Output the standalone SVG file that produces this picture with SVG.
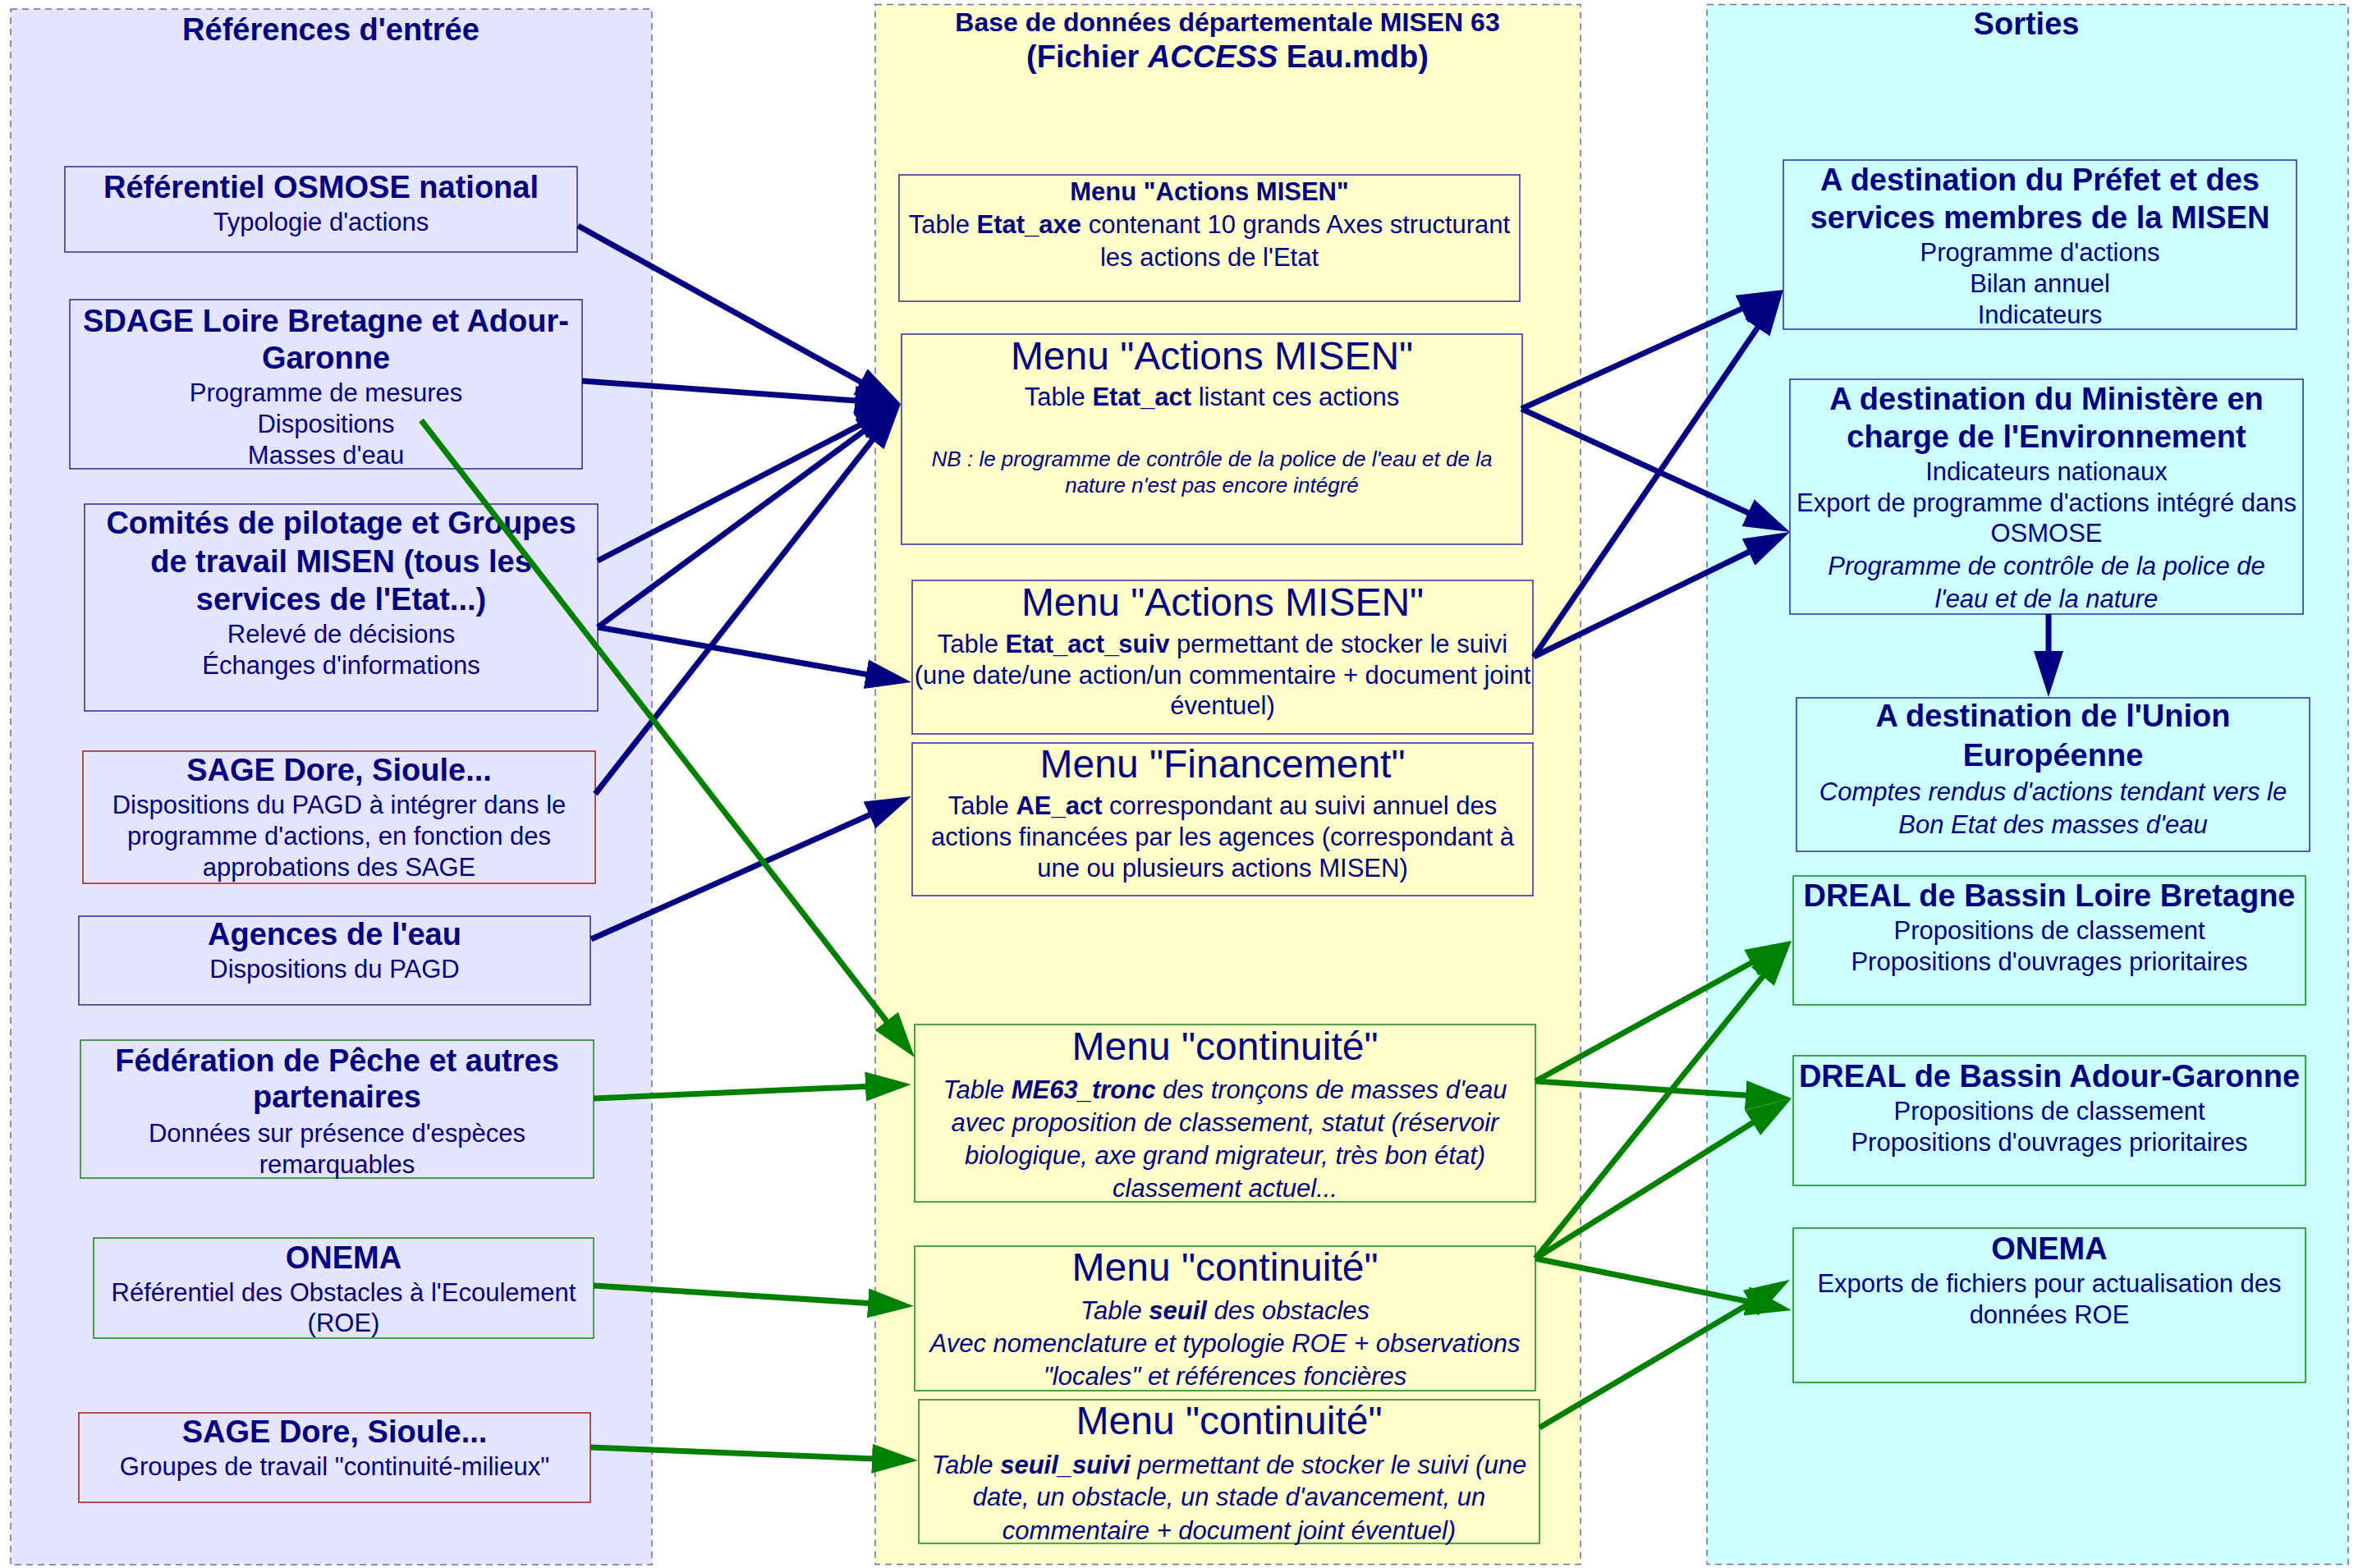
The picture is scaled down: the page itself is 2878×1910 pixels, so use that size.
<svg xmlns="http://www.w3.org/2000/svg" width="2878" height="1910" viewBox="0 0 2878 1910">
<style>
text{font-family:"Liberation Sans",Arial,sans-serif;fill:#000080;text-anchor:middle}
.hd{font-size:38px;font-weight:bold}
.hd2{font-size:32px;font-weight:bold}
.t{font-size:38px;font-weight:bold}
.s{font-size:31px}
.mt{font-size:31px;font-weight:bold}
.mb{font-size:48px}
.nb{font-size:26px;font-style:italic}
.i{font-style:italic}
.b{font-weight:bold}
.cont{stroke:#6a6ab0;stroke-width:1.5;stroke-dasharray:8,6}
.nv{stroke:#2a2a9a;stroke-width:1.5}
.gr{stroke:#118811;stroke-width:1.5}
.rd{stroke:#a01818;stroke-width:1.5}
.L{fill:#e4e4fc}
.M{fill:#ffffcc}
.R{fill:#ccffff}
.cn{stroke:#000080;stroke-width:7;fill:none;marker-end:url(#an)}
.cg{stroke:#008000;stroke-width:7;fill:none;marker-end:url(#ag)}
</style>
<defs>
<marker id="an" markerUnits="userSpaceOnUse" markerWidth="56" markerHeight="40" viewBox="0 0 56 40" refX="16" refY="20" orient="auto"><path d="M0,2 L56,20 L0,38 Z" fill="#000080"/></marker>
<marker id="ag" markerUnits="userSpaceOnUse" markerWidth="56" markerHeight="40" viewBox="0 0 56 40" refX="16" refY="20" orient="auto"><path d="M0,2 L56,20 L0,38 Z" fill="#008000"/></marker>
</defs>
<rect width="2878" height="1910" fill="#ffffff"/>
<g id="containers">
<g id="c-left"><rect x="13" y="11" width="781" height="1895" class="L cont"/><text x="403" y="49" class="hd">Références d'entrée</text></g>
<g id="c-mid"><rect x="1066" y="5.5" width="859" height="1900" class="M cont"/><text x="1495" y="38" class="hd2">Base de données départementale MISEN 63</text><text x="1495" y="82" class="hd">(Fichier <tspan class="i">ACCESS</tspan> Eau.mdb)</text></g>
<g id="c-right"><rect x="2079" y="5.5" width="781" height="1900" class="R cont"/><text x="2468" y="42" class="hd">Sorties</text></g>
</g>
<g id="n-osmose"><rect x="79" y="203" width="624" height="104" class="L nv"/><text x="391" y="241" class="t">Référentiel OSMOSE national</text><text x="391" y="281" class="s">Typologie d'actions</text></g>
<g id="n-sdage"><rect x="85" y="365" width="624" height="206" class="L nv"/><text x="397" y="404" class="t">SDAGE Loire Bretagne et Adour-</text><text x="397" y="449" class="t">Garonne</text><text x="397" y="489" class="s">Programme de mesures</text><text x="397" y="527" class="s">Dispositions</text><text x="397" y="565" class="s">Masses d'eau</text></g>
<g id="n-comites"><rect x="103" y="614" width="625" height="252" class="L nv"/><text x="415.5" y="650" class="t">Comités de pilotage et Groupes</text><text x="415.5" y="697" class="t">de travail MISEN (tous les</text><text x="415.5" y="743" class="t">services de l'Etat...)</text><text x="415.5" y="783" class="s">Relevé de décisions</text><text x="415.5" y="821" class="s">Échanges d'informations</text></g>
<g id="n-sage1"><rect x="101" y="915" width="624" height="161" class="L rd"/><text x="413" y="951" class="t">SAGE Dore, Sioule...</text><text x="413" y="991" class="s">Dispositions du PAGD à intégrer dans le</text><text x="413" y="1029" class="s">programme d'actions, en fonction des</text><text x="413" y="1067" class="s">approbations des SAGE</text></g>
<g id="n-agences"><rect x="96" y="1116" width="623" height="108" class="L nv"/><text x="407.5" y="1151" class="t">Agences de l'eau</text><text x="407.5" y="1191" class="s">Dispositions du PAGD</text></g>
<g id="n-federation"><rect x="98" y="1267" width="625" height="168" class="L gr"/><text x="410.5" y="1305" class="t">Fédération de Pêche et autres</text><text x="410.5" y="1349" class="t">partenaires</text><text x="410.5" y="1391" class="s">Données sur présence d'espèces</text><text x="410.5" y="1429" class="s">remarquables</text></g>
<g id="n-onema-in"><rect x="114" y="1508" width="609" height="122" class="L gr"/><text x="418.5" y="1545" class="t">ONEMA</text><text x="418.5" y="1585" class="s">Référentiel des Obstacles à l'Ecoulement</text><text x="418.5" y="1622" class="s">(ROE)</text></g>
<g id="n-sage2"><rect x="96" y="1721" width="623" height="109" class="L rd"/><text x="407.5" y="1757" class="t">SAGE Dore, Sioule...</text><text x="407.5" y="1797" class="s">Groupes de travail "continuité-milieux"</text></g>
<g id="n-etat-axe"><rect x="1095" y="213" width="756" height="154" class="M nv"/><text x="1473" y="244" class="mt">Menu "Actions MISEN"</text><text x="1473" y="284" class="s">Table <tspan class="b">Etat_axe</tspan> contenant 10 grands Axes structurant</text><text x="1473" y="324" class="s">les actions de l'Etat</text></g>
<g id="n-etat-act"><rect x="1098" y="407" width="756" height="256" class="M nv"/><text x="1476" y="450" class="mb">Menu "Actions MISEN"</text><text x="1476" y="494" class="s">Table <tspan class="b">Etat_act</tspan> listant ces actions</text><text x="1476" y="568" class="nb">NB : le programme de contrôle de la police de l'eau et de la</text><text x="1476" y="600" class="nb">nature n'est pas encore intégré</text></g>
<g id="n-etat-act-suiv"><rect x="1111" y="707" width="756" height="187" class="M nv"/><text x="1489" y="750" class="mb">Menu "Actions MISEN"</text><text x="1489" y="795" class="s">Table <tspan class="b">Etat_act_suiv</tspan> permettant de stocker le suivi</text><text x="1489" y="833" class="s">(une date/une action/un commentaire + document joint</text><text x="1489" y="870" class="s">éventuel)</text></g>
<g id="n-financement"><rect x="1111" y="905" width="756" height="186" class="M nv"/><text x="1489" y="947" class="mb">Menu "Financement"</text><text x="1489" y="992" class="s">Table <tspan class="b">AE_act</tspan> correspondant au suivi annuel des</text><text x="1489" y="1030" class="s">actions financées par les agences (correspondant à</text><text x="1489" y="1068" class="s">une ou plusieurs actions MISEN)</text></g>
<g id="n-cont1"><rect x="1114" y="1248" width="756" height="216" class="M gr"/><text x="1492" y="1291" class="mb">Menu "continuité"</text><text x="1492" y="1338" class="s i">Table <tspan class="b">ME63_tronc</tspan> des tronçons de masses d'eau</text><text x="1492" y="1378" class="s i">avec proposition de classement, statut (réservoir</text><text x="1492" y="1418" class="s i">biologique, axe grand migrateur, très bon état)</text><text x="1492" y="1458" class="s i">classement actuel...</text></g>
<g id="n-cont2"><rect x="1114" y="1518" width="756" height="176" class="M gr"/><text x="1492" y="1560" class="mb">Menu "continuité"</text><text x="1492" y="1607" class="s i">Table <tspan class="b">seuil</tspan> des obstacles</text><text x="1492" y="1647" class="s i">Avec nomenclature et typologie ROE + observations</text><text x="1492" y="1687" class="s i">"locales" et références foncières</text></g>
<g id="n-cont3"><rect x="1119" y="1705" width="756" height="175" class="M gr"/><text x="1497" y="1747" class="mb">Menu "continuité"</text><text x="1497" y="1795" class="s i">Table <tspan class="b">seuil_suivi</tspan> permettant de stocker le suivi (une</text><text x="1497" y="1834" class="s i">date, un obstacle, un stade d'avancement, un</text><text x="1497" y="1875" class="s i">commentaire + document joint éventuel)</text></g>
<g id="n-prefet"><rect x="2172" y="195" width="625" height="206" class="R nv"/><text x="2484.5" y="231.5" class="t">A destination du Préfet et des</text><text x="2484.5" y="278" class="t">services membres de la MISEN</text><text x="2484.5" y="318" class="s">Programme d'actions</text><text x="2484.5" y="356" class="s">Bilan annuel</text><text x="2484.5" y="393.5" class="s">Indicateurs</text></g>
<g id="n-ministere"><rect x="2180" y="462" width="625" height="286" class="R nv"/><text x="2492.5" y="499" class="t">A destination du Ministère en</text><text x="2492.5" y="545" class="t">charge de l'Environnement</text><text x="2492.5" y="585" class="s">Indicateurs nationaux</text><text x="2492.5" y="623" class="s">Export de programme d'actions intégré dans</text><text x="2492.5" y="660" class="s">OSMOSE</text><text x="2492.5" y="700" class="s i">Programme de contrôle de la police de</text><text x="2492.5" y="740" class="s i">l'eau et de la nature</text></g>
<g id="n-ue"><rect x="2188" y="850" width="625" height="187" class="R nv"/><text x="2500.5" y="885" class="t">A destination de l'Union</text><text x="2500.5" y="933" class="t">Européenne</text><text x="2500.5" y="975" class="s i">Comptes rendus d'actions tendant vers le</text><text x="2500.5" y="1015" class="s i">Bon Etat des masses d'eau</text></g>
<g id="n-dreal-lb"><rect x="2184" y="1067" width="624" height="157" class="R gr"/><text x="2496" y="1103.5" class="t">DREAL de Bassin Loire Bretagne</text><text x="2496" y="1144" class="s">Propositions de classement</text><text x="2496" y="1182" class="s">Propositions d'ouvrages prioritaires</text></g>
<g id="n-dreal-ag"><rect x="2184" y="1286" width="624" height="158" class="R gr"/><text x="2496" y="1324" class="t">DREAL de Bassin Adour-Garonne</text><text x="2496" y="1364" class="s">Propositions de classement</text><text x="2496" y="1401.5" class="s">Propositions d'ouvrages prioritaires</text></g>
<g id="n-onema-out"><rect x="2184" y="1496" width="624" height="188" class="R gr"/><text x="2496" y="1534" class="t">ONEMA</text><text x="2496" y="1574" class="s">Exports de fichiers pour actualisation des</text><text x="2496" y="1612" class="s">données ROE</text></g>
<g id="connectors">
<line x1="704" y1="275" x2="1062" y2="472.7" class="cn"/>
<line x1="709" y1="464" x2="1057.1" y2="489.1" class="cn"/>
<line x1="728" y1="683" x2="1061.5" y2="510.4" class="cn"/>
<line x1="728" y1="764" x2="1064.8" y2="515.7" class="cn"/>
<line x1="725" y1="967" x2="1072.3" y2="523.5" class="cn"/>
<line x1="728" y1="764" x2="1070.6" y2="824.1" class="cn"/>
<line x1="720" y1="1144" x2="1073.5" y2="986.3" class="cn"/>
<line x1="1853" y1="498" x2="2135.6" y2="369.6" class="cn"/>
<line x1="1853" y1="498" x2="2143.6" y2="631.3" class="cn"/>
<line x1="1868" y1="800" x2="2149.5" y2="386.1" class="cn"/>
<line x1="1868" y1="800" x2="2144" y2="665.5" class="cn"/>
<line x1="2495" y1="748" x2="2495" y2="809" class="cn"/>
<line x1="513" y1="512" x2="1089.5" y2="1256.4" class="cg"/>
<line x1="723" y1="1338" x2="1070" y2="1322.8" class="cg"/>
<line x1="723" y1="1566" x2="1073.1" y2="1588.4" class="cg"/>
<line x1="719" y1="1763" x2="1078" y2="1777.4" class="cg"/>
<line x1="1870" y1="1317" x2="2146.9" y2="1165.2" class="cg"/>
<line x1="1870" y1="1317" x2="2142.1" y2="1335.3" class="cg"/>
<line x1="1870" y1="1533" x2="2156.9" y2="1177.1" class="cg"/>
<line x1="1870" y1="1533" x2="2148.1" y2="1359.2" class="cg"/>
<line x1="1870" y1="1533" x2="2142.8" y2="1588.1" class="cg"/>
<line x1="1875" y1="1739" x2="2145.7" y2="1579.1" class="cg"/>
</g>
</svg>
